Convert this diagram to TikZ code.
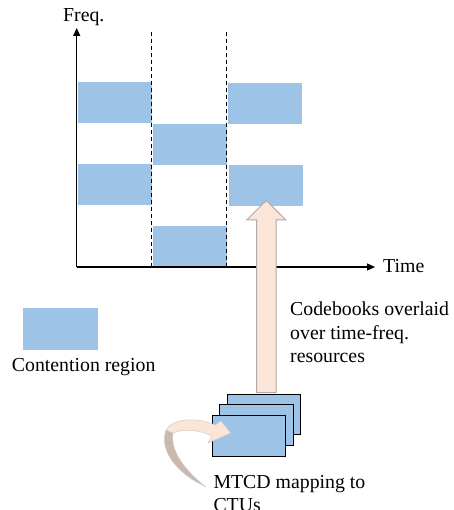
\documentclass[tikz,border=0pt]{standalone}
\usepackage{fontspec}
\setmainfont{Liberation Serif}
\usetikzlibrary{arrows.meta}
\definecolor{cellblue}{HTML}{9DC3E6}
\definecolor{peach}{HTML}{FBE5D6}
\definecolor{arrowline}{HTML}{AFABAB}
\definecolor{taildark}{HTML}{C9B9AE}
\tikzset{
  cell/.style={fill=cellblue, draw=none, minimum width=74pt, minimum height=41pt, inner sep=0pt, outer sep=0pt},
  card/.style={fill=cellblue, draw=black, line width=1pt, minimum width=73.5pt, minimum height=40.5pt, inner sep=0pt, outer sep=0pt},
  lbl/.style={font=\fontsize{19.8}{23.5}\selectfont, inner sep=0pt, anchor=base west},
  axis/.style={line width=1.2pt, -{Triangle[length=8pt,width=7pt]}},
  divider/.style={line width=0.9pt, dash pattern=on 4pt off 3pt},
  bigarrow/.style={fill=peach, draw=arrowline, line width=1pt, line join=miter},
}
\begin{document}
\begin{tikzpicture}[x=1pt,y=-1pt]
\useasboundingbox (0,0) rectangle (453,510);
% cells
\node[cell] (c11) at (114.7,102.3) {};
\node[cell] (c13) at (114.7,184.3) {};
\node[cell] (c22) at (189.7,144.3) {};
\node[cell] (c24) at (189.7,246.7) {};
\node[cell] (c31) at (264.5,103.3) {};
\node[cell] (c33) at (265.5,185.3) {};
% axes
\coordinate (O) at (76.7,267);
\coordinate (ytip) at (76.7,28);
\coordinate (xtip) at (375,267);
\draw[axis] (O) -- (ytip);
\draw[axis] (O) -- (xtip);
% dividers
\coordinate (d1t) at (151.7,31.7);
\coordinate (d1b) at (151.7,267);
\coordinate (d2t) at (226.7,31.7);
\coordinate (d2b) at (226.7,267);
\draw[divider] (d1t) -- (d1b);
\draw[divider] (d2t) -- (d2b);
% labels
\node[lbl] (freq) at (63,22) {Freq.};
\node[lbl] (time) at (383,272) {Time};
\node[lbl] (cb1) at (290,315.7) {Codebooks overlaid};
\node[lbl] (cb2) at (290,339.2) {over time-freq.};
\node[lbl] (cb3) at (290,362.7) {resources};
% legend
\node[cell, minimum width=75pt, minimum height=41.7pt] (leg) at (60.2,329.2) {};
\node[lbl] (legtxt) at (11.7,371.7) {Contention region};
% stack of codebooks
\node[card] (k3) at (263.8,414.5) {};
\node[card] (k2) at (256.5,425.0) {};
\node[card] (k1) at (249.2,436.0) {};
% big arrow from stack to chart
\draw[bigarrow] (256.7,392.7) -- (256.7,220) -- (246.7,220) -- (266.3,200.5) -- (286,220) -- (276,220) -- (276,392.7) -- cycle;
% curved arrow
\fill[taildark, draw=arrowline!60, line width=0.5pt]
  (193,480) .. controls (172,466) and (160,448) .. (166,430)
  -- (173,433) .. controls (170,450) and (184,470) .. (206,487) -- cycle;
\fill[peach, draw=arrowline!60, line width=0.5pt]
  (166,430) .. controls (172,418) and (198,417) .. (215,425)
  -- (221,421) -- (230.5,433) -- (208,443) -- (212,436)
  .. controls (198,429) and (182,429) .. (173,433) -- cycle;
\node[lbl] (mt1) at (213.3,488.3) {MTCD mapping to};
\node[lbl] (mt2) at (213.3,511.8) {CTUs};
\end{tikzpicture}
\end{document}
